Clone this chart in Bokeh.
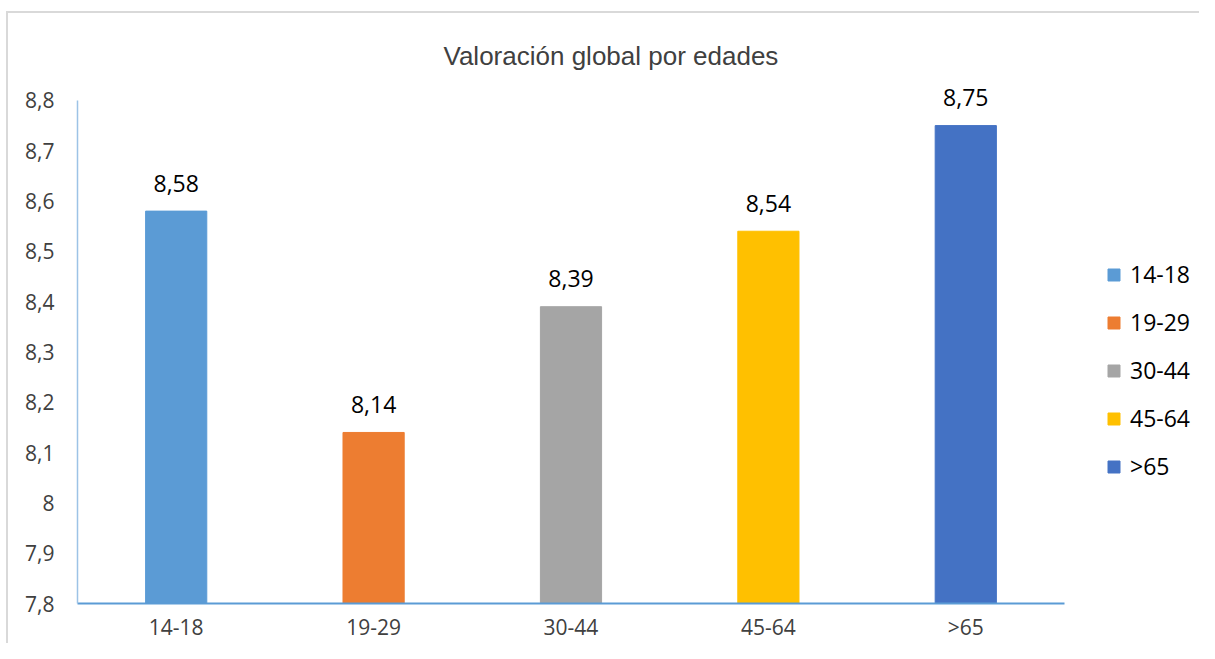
from bokeh.plotting import figure
from bokeh.models import ColumnDataSource, FixedTicker, CustomJSTickFormatter, Range1d
from bokeh.core.properties import value
from bokeh.embed import file_html
from bokeh.resources import INLINE

categories = ["14-18", "19-29", "30-44", "45-64", ">65"]
values = [8.58, 8.14, 8.39, 8.54, 8.75]
colors = ["#5b9bd5", "#ed7d31", "#a5a5a5", "#ffc000", "#4472c4"]
y_ticks = [7.8, 7.9, 8.0, 8.1, 8.2, 8.3, 8.4, 8.5, 8.6, 8.7, 8.8]
title_text = "Valoración global por edades"

xs = list(range(len(categories)))
labels = [f"{v:.2f}".replace(".", ",") for v in values]
source = ColumnDataSource(data=dict(x=xs, cat=categories, val=values, color=colors, label=labels))

p = figure(
    x_range=Range1d(-0.5, 5.184),
    y_range=Range1d(7.8, 8.8496),
    width=1199, height=643,
    output_backend="svg", toolbar_location=None,
    min_border_left=77, min_border_right=0, min_border_top=75, min_border_bottom=39,
    styles={
        "background-image": "linear-gradient(#d9d9d9,#d9d9d9), linear-gradient(#d9d9d9,#d9d9d9)",
        "background-size": "2px 100%, 100% 2px",
        "background-position": "6px 11px, 6px 11px",
        "background-repeat": "no-repeat",
    },
)
p.border_fill_color = None
p.background_fill_color = None

p.vbar(x="x", top="val", bottom=7.8, width=0.31, color="color", source=source, legend_field="cat")
p.text(x="x", y="val", text="label", source=source, text_align="center", text_baseline="alphabetic",
       y_offset=-28, text_font=value("Open Sans"), text_font_size="23px", text_color="#000000")

p.title.text = title_text
p.title.align = "left"
p.title.offset = 366
p.title.text_font = "Liberation Sans"
p.title.text_font_size = "26px"
p.title.text_font_style = "normal"
p.title.text_color = "#404040"
p.title.standoff = 10

p.xgrid.grid_line_color = None
p.ygrid.grid_line_color = None
p.outline_line_color = None

p.xaxis.ticker = FixedTicker(ticks=xs)
p.xaxis.major_label_overrides = {i: c for i, c in zip(xs, categories)}
p.xaxis.bounds = (-0.5, len(categories) - 0.5)
p.yaxis.ticker = FixedTicker(ticks=y_ticks)
p.yaxis.bounds = (7.8, 8.8)
p.yaxis.formatter = CustomJSTickFormatter(code="""
    const s = (Math.round(tick * 10) / 10).toString();
    return s.replace('.', ',');
""")
for ax in (p.xaxis, p.yaxis):
    ax.major_tick_line_color = None
    ax.minor_tick_line_color = None
    ax.major_tick_out = 0
    ax.major_tick_in = 0
    ax.minor_tick_out = 0
    ax.minor_tick_in = 0
    ax.major_label_text_font = "Open Sans"
    ax.major_label_text_font_size = "21px"
    ax.major_label_text_color = "#404040"
p.yaxis.axis_line_color = "#9dc3e6"
p.yaxis.axis_line_width = 1.5
p.yaxis.major_label_standoff = 23
p.xaxis.axis_line_color = "#5b9bd5"
p.xaxis.axis_line_width = 2
p.xaxis.major_label_standoff = 9

leg = p.legend[0]
leg.location = (1029, 113)
leg.padding = 0
leg.margin = 0
leg.border_line_color = None
leg.background_fill_alpha = 0
leg.glyph_width = 15
leg.glyph_height = 15
leg.label_standoff = 9
leg.label_height = 48
leg.spacing = 0
leg.label_text_font = "Open Sans"
leg.label_text_font_size = "23px"
leg.label_text_color = "#000000"

open("out.html", "w").write(file_html(p, INLINE))
